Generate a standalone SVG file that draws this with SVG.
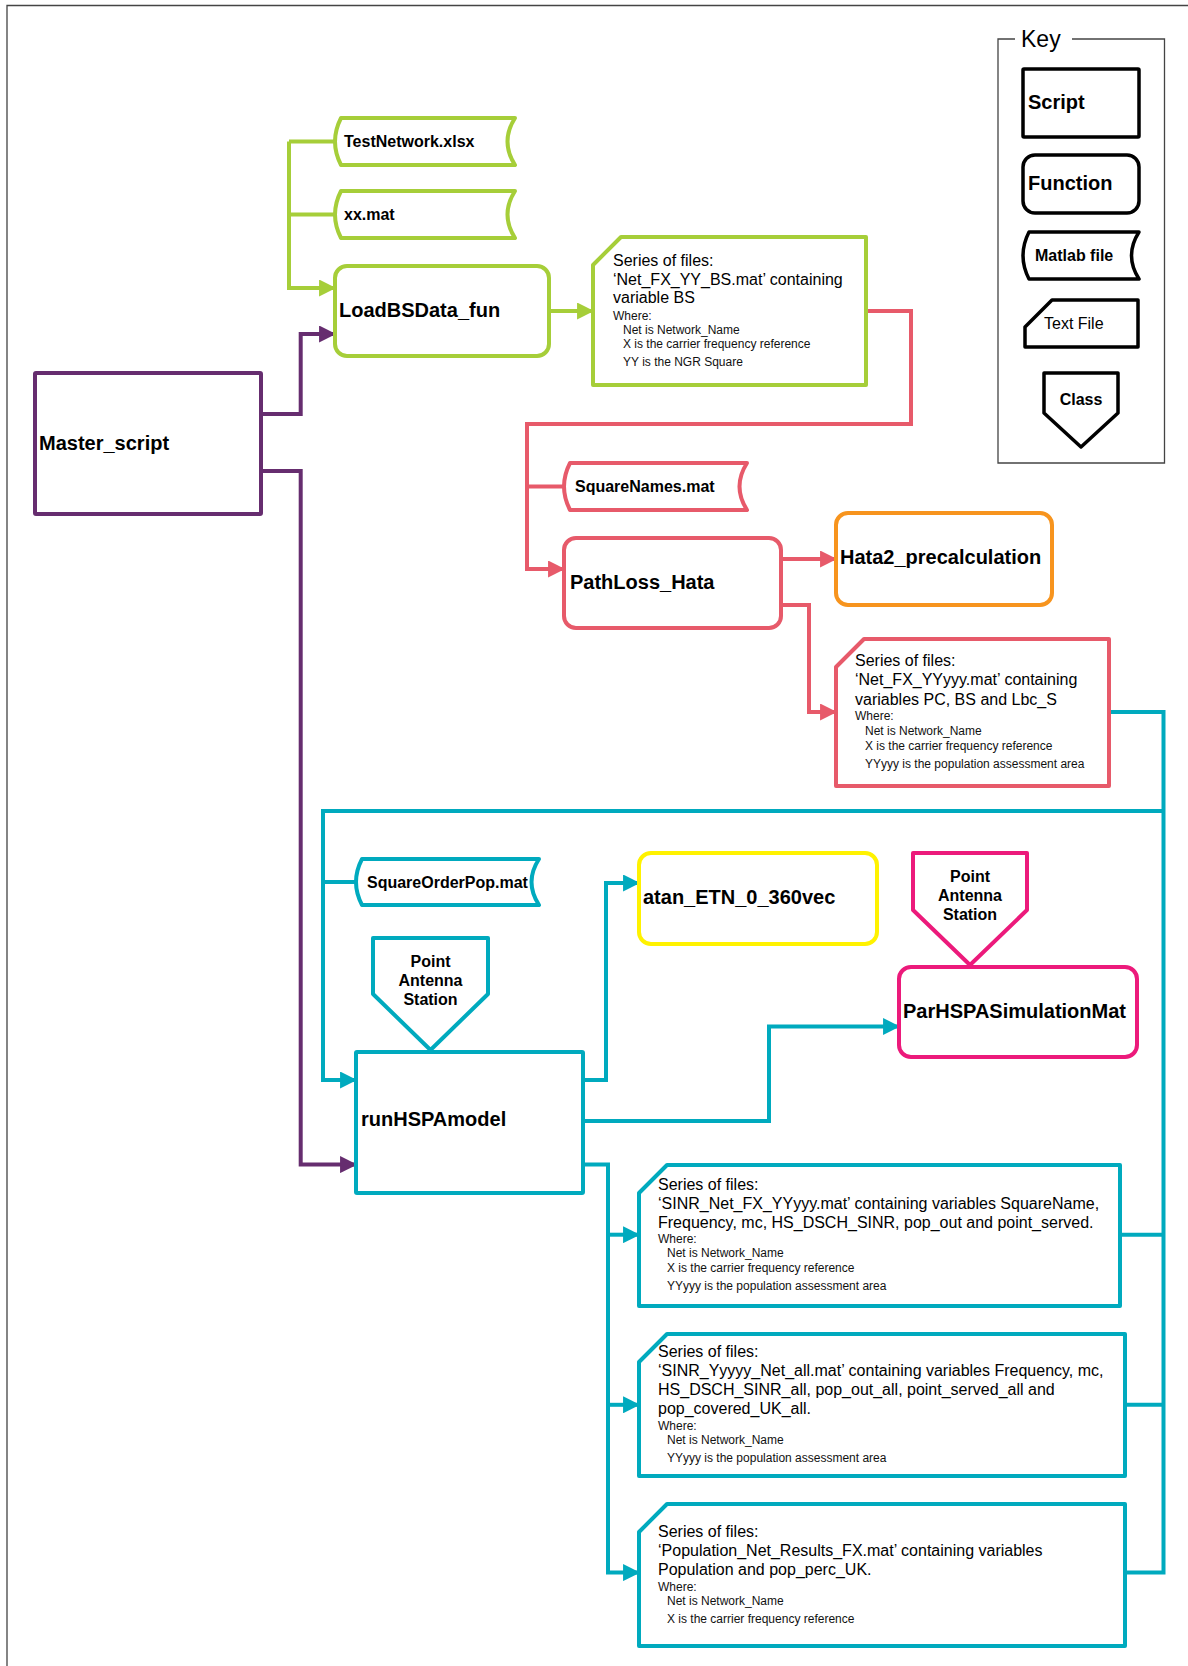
<svg xmlns="http://www.w3.org/2000/svg" width="1188" height="1666" viewBox="0 0 1188 1666">
<style>
text{font-family:"Liberation Sans",Arial,sans-serif;fill:#000}
.frame{fill:none;stroke:#444;stroke-width:1.3}
.node{fill:#fff;stroke-width:4;stroke-linejoin:round}
.key{fill:#fff;stroke:#000;stroke-width:3.5;stroke-linejoin:round}
.conn{fill:none;stroke-width:4;stroke-linejoin:miter}
.G{stroke:#A6CE39}.P{stroke:#662D6F}.R{stroke:#E75A6A}.O{stroke:#F7941E}.T{stroke:#00AABE}.Y{stroke:#FFF200}.M{stroke:#EC1A7B}
.lbl{font-size:20px;font-weight:bold}
.mat{font-size:16px;font-weight:bold}
.cls{font-size:16px;font-weight:bold;text-anchor:middle}
.big{font-size:16px}
.small{font-size:12px;fill:#111}
</style>
<defs>
<marker id="aG" viewBox="0 0 16 16" refX="15" refY="8" markerWidth="17" markerHeight="17" markerUnits="userSpaceOnUse" orient="auto"><path d="M0,0 L16,8 L0,16 Z" fill="#A6CE39"/></marker>
<marker id="aP" viewBox="0 0 16 16" refX="15" refY="8" markerWidth="17" markerHeight="17" markerUnits="userSpaceOnUse" orient="auto"><path d="M0,0 L16,8 L0,16 Z" fill="#662D6F"/></marker>
<marker id="aR" viewBox="0 0 16 16" refX="15" refY="8" markerWidth="17" markerHeight="17" markerUnits="userSpaceOnUse" orient="auto"><path d="M0,0 L16,8 L0,16 Z" fill="#E75A6A"/></marker>
<marker id="aT" viewBox="0 0 16 16" refX="15" refY="8" markerWidth="17" markerHeight="17" markerUnits="userSpaceOnUse" orient="auto"><path d="M0,0 L16,8 L0,16 Z" fill="#00AABE"/></marker>
</defs>
<rect width="1188" height="1666" fill="#fff"/>
<path class="frame" d="M7,1666 V5.5 H1188"/>

<g id="key">
<path class="frame" d="M1015,39 H998 V463 H1164.5 V39 H1072" stroke="#333"/>
<text x="1021" y="47" font-size="23">Key</text>
<rect class="key" x="1023" y="69" width="116" height="68" rx="1"/>
<text class="lbl" x="1028" y="109">Script</text>
<rect class="key" x="1023" y="155" width="116" height="58" rx="12"/>
<text class="lbl" x="1028" y="190">Function</text>
<path class="key" d="M1029,232 H1139 Q1124,255.5 1139,279 H1029 Q1017,255.5 1029,232 Z"/>
<text class="mat" x="1035" y="261">Matlab file</text>
<path class="key" d="M1025,327 L1052,300 H1138 V347 H1025 Z"/>
<text x="1044" y="329" font-size="16">Text File</text>
<path class="key" d="M1044,373 H1118 V413 L1081,447 L1044,413 Z"/>
<text class="cls" x="1081" y="405">Class</text>
</g>

<g id="connectors">
<path class="conn G" d="M289,141.5 H337"/>
<path class="conn G" d="M289,214.5 H337"/>
<path class="conn G" d="M289,141.5 V288 H335" marker-end="url(#aG)"/>
<path class="conn G" d="M549,311 H593" marker-end="url(#aG)"/>
<path class="conn P" d="M261,414 H300.7 V334 H335" marker-end="url(#aP)"/>
<path class="conn P" d="M261,471 H300.7 V1164.6 H356" marker-end="url(#aP)"/>
<path class="conn R" d="M866,311 H911 V424 H527 V569 H564" marker-end="url(#aR)"/>
<path class="conn R" d="M527,486.5 H566"/>
<path class="conn R" d="M781,559 H836" marker-end="url(#aR)"/>
<path class="conn R" d="M781,605 H809 V712 H836" marker-end="url(#aR)"/>
<path class="conn T" d="M1109,712 H1163.5 V1572.6 H1125"/>
<path class="conn T" d="M1163.5,811 H323 V1080 H356" marker-end="url(#aT)"/>
<path class="conn T" d="M323,882 H358"/>
<path class="conn T" d="M1120,1234.7 H1163.5"/>
<path class="conn T" d="M1125,1404.8 H1163.5"/>
<path class="conn T" d="M583,1080 H606 V883 H639" marker-end="url(#aT)"/>
<path class="conn T" d="M583,1121 H769 V1026.5 H899" marker-end="url(#aT)"/>
<path class="conn T" d="M583,1164.6 H608 V1572.6 H639" marker-end="url(#aT)"/>
<path class="conn T" d="M608,1234.7 H639" marker-end="url(#aT)"/>
<path class="conn T" d="M608,1404.8 H639" marker-end="url(#aT)"/>
</g>

<g id="TestNetwork">
<path class="node G" d="M341,118 H515 Q500,141.5 515,165 H341 Q329,141.5 341,118 Z"/>
<text class="mat" x="344" y="147">TestNetwork.xlsx</text>
</g>
<g id="xxmat">
<path class="node G" d="M341,191 H515 Q500,214.5 515,238 H341 Q329,214.5 341,191 Z"/>
<text class="mat" x="344" y="220">xx.mat</text>
</g>
<g id="LoadBSData_fun">
<rect class="node G" x="335" y="266" width="214" height="90" rx="12"/>
<text class="lbl" x="339" y="317">LoadBSData_fun</text>
</g>
<g id="BSFiles">
<path class="node G" d="M593,265 L621,237 H866 V385 H593 Z"/>
<text class="big" x="613" y="266">Series of files:</text>
<text class="big" x="613" y="285">‘Net_FX_YY_BS.mat’ containing</text>
<text class="big" x="613" y="303">variable BS</text>
<text class="small" x="613" y="320">Where:</text>
<text class="small" x="623" y="334">Net is Network_Name</text>
<text class="small" x="623" y="348">X is the carrier frequency reference</text>
<text class="small" x="623" y="366">YY is the NGR Square</text>
</g>
<g id="Master_script">
<rect class="node P" x="35" y="373" width="226" height="141" rx="1"/>
<text class="lbl" x="39" y="450">Master_script</text>
</g>
<g id="SquareNames">
<path class="node R" d="M570,463 H747 Q732,486.5 747,510 H570 Q558,486.5 570,463 Z"/>
<text class="mat" x="575" y="492">SquareNames.mat</text>
</g>
<g id="PathLoss_Hata">
<rect class="node R" x="564" y="538" width="217" height="90" rx="12"/>
<text class="lbl" x="570" y="589">PathLoss_Hata</text>
</g>
<g id="Hata2_precalculation">
<rect class="node O" x="836" y="513" width="216" height="92" rx="12"/>
<text class="lbl" x="840" y="564">Hata2_precalculation</text>
</g>
<g id="PathLossFiles">
<path class="node R" d="M836,667 L864,639 H1109 V786 H836 Z"/>
<text class="big" x="855" y="666">Series of files:</text>
<text class="big" x="855" y="685">‘Net_FX_YYyyy.mat’ containing</text>
<text class="big" x="855" y="704.5">variables PC, BS and Lbc_S</text>
<text class="small" x="855" y="720">Where:</text>
<text class="small" x="865" y="735">Net is Network_Name</text>
<text class="small" x="865" y="750">X is the carrier frequency reference</text>
<text class="small" x="865" y="768">YYyyy is the population assessment area</text>
</g>
<g id="SquareOrderPop">
<path class="node T" d="M362,859 H539 Q524,882 539,905 H362 Q350,882 362,859 Z"/>
<text class="mat" x="367" y="887.5">SquareOrderPop.mat</text>
</g>
<g id="PointAntennaStation1">
<path class="node T" d="M373,938 H488 V994 L430.5,1050 L373,994 Z"/>
<text class="cls" x="430.5" y="967">Point</text>
<text class="cls" x="430.5" y="986">Antenna</text>
<text class="cls" x="430.5" y="1005">Station</text>
</g>
<g id="runHSPAmodel">
<rect class="node T" x="356" y="1052" width="227" height="141" rx="1"/>
<text class="lbl" x="361" y="1126">runHSPAmodel</text>
</g>
<g id="atan_ETN_0_360vec">
<rect class="node Y" x="639" y="853" width="238" height="91" rx="12"/>
<text class="lbl" x="643" y="904">atan_ETN_0_360vec</text>
</g>
<g id="PointAntennaStation2">
<path class="node M" d="M913,853 H1027 V910 L970,965 L913,910 Z"/>
<text class="cls" x="970" y="882">Point</text>
<text class="cls" x="970" y="901">Antenna</text>
<text class="cls" x="970" y="920">Station</text>
</g>
<g id="ParHSPASimulationMat">
<rect class="node M" x="899" y="967" width="238" height="90" rx="12"/>
<text class="lbl" x="903" y="1018">ParHSPASimulationMat</text>
</g>
<g id="SINRFiles">
<path class="node T" d="M639,1193 L667,1165 H1120 V1306 H639 Z"/>
<text class="big" x="658" y="1190">Series of files:</text>
<text class="big" x="658" y="1209">‘SINR_Net_FX_YYyyy.mat’ containing variables SquareName,</text>
<text class="big" x="658" y="1228">Frequency, mc, HS_DSCH_SINR, pop_out and point_served.</text>
<text class="small" x="658" y="1243">Where:</text>
<text class="small" x="667" y="1257">Net is Network_Name</text>
<text class="small" x="667" y="1272">X is the carrier frequency reference</text>
<text class="small" x="667" y="1290">YYyyy is the population assessment area</text>
</g>
<g id="SINRAllFiles">
<path class="node T" d="M639,1362 L667,1334 H1125 V1476 H639 Z"/>
<text class="big" x="658" y="1357">Series of files:</text>
<text class="big" x="658" y="1376">‘SINR_Yyyyy_Net_all.mat’ containing variables Frequency, mc,</text>
<text class="big" x="658" y="1395">HS_DSCH_SINR_all, pop_out_all, point_served_all and</text>
<text class="big" x="658" y="1414">pop_covered_UK_all.</text>
<text class="small" x="658" y="1430">Where:</text>
<text class="small" x="667" y="1444">Net is Network_Name</text>
<text class="small" x="667" y="1462">YYyyy is the population assessment area</text>
</g>
<g id="PopulationFiles">
<path class="node T" d="M639,1532 L667,1504 H1125 V1646 H639 Z"/>
<text class="big" x="658" y="1536.5">Series of files:</text>
<text class="big" x="658" y="1555.6">‘Population_Net_Results_FX.mat’ containing variables</text>
<text class="big" x="658" y="1574.8">Population and pop_perc_UK.</text>
<text class="small" x="658" y="1590.7">Where:</text>
<text class="small" x="667" y="1604.5">Net is Network_Name</text>
<text class="small" x="667" y="1622.6">X is the carrier frequency reference</text>
</g>
</svg>
